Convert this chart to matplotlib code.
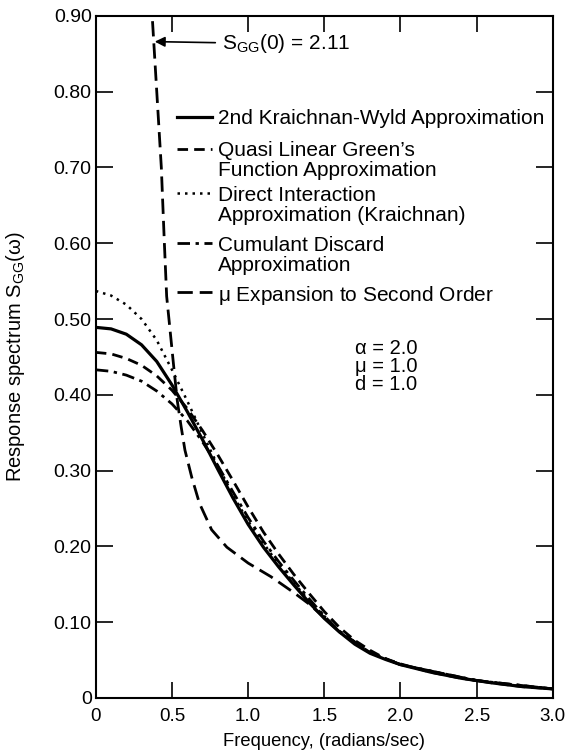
import matplotlib
matplotlib.use("Agg")
import matplotlib.pyplot as plt
from matplotlib.ticker import FixedLocator
from matplotlib.lines import Line2D

plt.rcParams['font.family'] = ['Liberation Sans', 'DejaVu Sans']
plt.rcParams['mathtext.fontset'] = 'custom'
plt.rcParams['mathtext.rm'] = 'Liberation Sans'
plt.rcParams['mathtext.it'] = 'Liberation Sans:italic'
plt.rcParams['mathtext.default'] = 'regular'

# ---- data ----
kw_x = [0, 0.1, 0.2, 0.3, 0.4, 0.5, 0.6, 0.7, 0.8, 0.9, 1.0, 1.1, 1.2, 1.3, 1.4, 1.5,
        1.6, 1.7, 1.8, 1.9, 2.0, 2.2, 2.4, 2.6, 2.8, 3.0]
kw_y = [0.489, 0.487, 0.480, 0.466, 0.444, 0.413, 0.378, 0.341, 0.302, 0.264, 0.229,
        0.199, 0.173, 0.149, 0.126, 0.105, 0.087, 0.071, 0.059, 0.051, 0.044, 0.034,
        0.026, 0.020, 0.015, 0.012]

qlg_x = [0, 0.1, 0.2, 0.3, 0.4, 0.5, 0.6, 0.7, 0.8, 0.9, 1.0, 1.1, 1.2, 1.3, 1.4, 1.5,
         1.6, 1.7, 1.8, 1.9, 2.0, 2.2, 2.4, 2.6, 2.8, 3.0]
qlg_y = [0.456, 0.454, 0.448, 0.439, 0.425, 0.406, 0.382, 0.353, 0.321, 0.287, 0.252,
         0.219, 0.190, 0.163, 0.138, 0.114, 0.093, 0.076, 0.063, 0.052, 0.045, 0.034,
         0.026, 0.020, 0.015, 0.012]

dia_x = [0, 0.1, 0.2, 0.3, 0.4, 0.5, 0.6, 0.7, 0.8, 0.9, 1.0, 1.2, 1.4, 1.6, 1.8, 2.0,
         2.5, 3.0]
dia_y = [0.537, 0.531, 0.519, 0.500, 0.472, 0.433, 0.392, 0.349, 0.307, 0.268, 0.233,
         0.176, 0.128, 0.088, 0.060, 0.044, 0.023, 0.012]

cd_x = [0, 0.1, 0.2, 0.3, 0.4, 0.5, 0.6, 0.7, 0.8, 0.9, 1.0, 1.1, 1.2, 1.3, 1.4, 1.5,
        1.6, 1.8, 2.0, 2.5, 3.0]
cd_y = [0.433, 0.431, 0.426, 0.418, 0.405, 0.388, 0.366, 0.338, 0.307, 0.272, 0.238,
        0.207, 0.180, 0.155, 0.131, 0.108, 0.088, 0.060, 0.044, 0.023, 0.012]

mu_x = [0.0, 0.25, 0.37, 0.40, 0.43, 0.45, 0.465, 0.49, 0.515, 0.535, 0.56, 0.585, 0.63,
        0.68, 0.76, 0.86, 1.0, 1.15, 1.3, 1.4, 1.5, 1.6, 1.8, 2.0, 2.5, 3.0]
mu_y = [2.11, 1.25, 0.90, 0.80, 0.70, 0.60, 0.53, 0.48, 0.43, 0.392, 0.358, 0.327, 0.291,
        0.257, 0.222, 0.199, 0.178, 0.160, 0.139, 0.124, 0.106, 0.087, 0.060, 0.044,
        0.023, 0.012]

labels = ["2nd Kraichnan-Wyld Approximation",
          "Quasi Linear Green\u2019s\nFunction Approximation",
          "Direct Interaction\nApproximation (Kraichnan)",
          "Cumulant Discard\nApproximation",
          "$\\mu$ Expansion to Second Order"]

x_ticks = [0, 0.5, 1.0, 1.5, 2.0, 2.5, 3.0]
x_ticklabels = ["0", "0.5", "1.0", "1.5", "2.0", "2.5", "3.0"]
y_ticks = [0, 0.1, 0.2, 0.3, 0.4, 0.5, 0.6, 0.7, 0.8, 0.9]
y_ticklabels = ["0", "0.10", "0.20", "0.30", "0.40", "0.50", "0.60", "0.70", "0.80", "0.90"]

# ---- styles ----
styles = [dict(color='black', lw=2.3, ls='-'),
          dict(color='black', lw=2.0, ls=(0, (3.8, 2.2))),
          dict(color='black', lw=1.8, ls=(0, (1, 2.0))),
          dict(color='black', lw=2.0, ls=(0, (4.5, 2.0, 1.2, 2.0))),
          dict(color='black', lw=2.0, ls=(0, (5.5, 2.5)))]

fig = plt.figure(figsize=(5.67, 7.55), dpi=100)
ax = fig.add_axes([0.169, 0.0755, 0.806, 0.9035])

series = [(kw_x, kw_y), (qlg_x, qlg_y), (dia_x, dia_y), (cd_x, cd_y), (mu_x, mu_y)]
for (sx, sy), st in zip(series, styles):
    ax.plot(sx, sy, **st)

ax.set_xlim(0, 3.0)
ax.set_ylim(0, 0.9)
ax.xaxis.set_major_locator(FixedLocator(x_ticks))
ax.set_xticklabels(x_ticklabels, fontsize=13.5)
ax.yaxis.set_major_locator(FixedLocator(y_ticks))
ax.set_yticklabels(y_ticklabels, fontsize=14)
ax.tick_params(axis='both', direction='in', top=True, right=True, width=1.2, color='black')
ax.tick_params(axis='x', length=11.5, pad=7)
ax.tick_params(axis='y', length=12.5, pad=3)
for sp in ax.spines.values():
    sp.set_linewidth(1.5)

ax.set_xlabel("Frequency, (radians/sec)", fontsize=13.2, labelpad=6)
ax.set_ylabel("Response spectrum $S_{GG}$(\u03c9)", fontsize=14.5, labelpad=19)

ax.annotate("$S_{GG}$(0) = 2.11", xy=(0.387, 0.866), xytext=(0.83, 0.863),
            fontsize=15, va='center', ha='left',
            arrowprops=dict(arrowstyle='-|>', color='black', lw=1.2,
                            shrinkA=3, shrinkB=0, mutation_scale=15))

# ---- legend (keys drawn with the series styles, first text line aligned with key) ----
leg_y = [0.852, 0.805, 0.740, 0.667, 0.595]
line_step = 0.0295
for lab, st, yy in zip(labels, styles, leg_y):
    ax.add_line(Line2D([0.177, 0.254], [yy, yy], transform=ax.transAxes, **st))
    for i, part in enumerate(lab.split("\n")):
        ax.text(0.267, yy - i * line_step, part, transform=ax.transAxes, fontsize=15,
                va='center_baseline', ha='left')

ax.text(2.11, 0.474, "\u03b1 = 2.0\n\u03bc = 1.0\nd = 1.0", fontsize=14.5, va='top',
        ha='right', linespacing=0.95)

fig.savefig("out.png", dpi=100)
